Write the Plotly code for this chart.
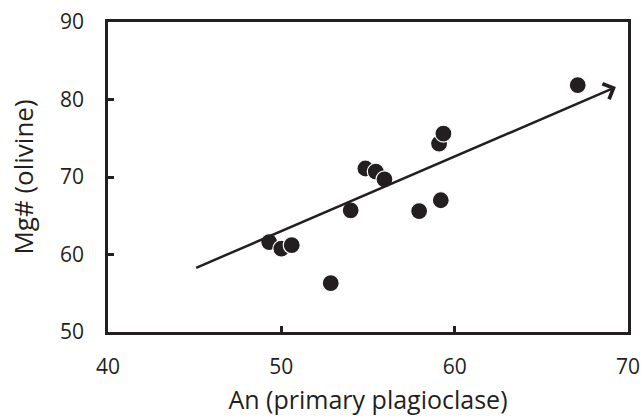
import plotly.graph_objects as go

# Data
an_primary = [49.3, 50.0, 50.6, 52.85, 54.0, 54.85, 55.45, 55.95, 57.95, 59.2, 59.1, 59.35, 67.1]
mg_olivine = [61.6, 60.75, 61.2, 56.3, 65.7, 71.1, 70.7, 69.7, 65.6, 67.0, 74.3, 75.6, 81.85]

trend_x = [45.0, 69.3]
trend_y = [58.2, 81.6]

x_ticks = [40, 50, 60, 70]
y_ticks = [50, 60, 70, 80, 90]

font_family = "Open Sans, Liberation Sans, sans-serif"
ink = "#231f20"

fig = go.Figure()
fig.add_trace(go.Scatter(
    x=an_primary, y=mg_olivine, mode="markers",
    marker=dict(size=17, color=ink, line=dict(color="white", width=1.2)),
    showlegend=False, cliponaxis=False,
))

fig.add_annotation(
    x=trend_x[1], y=trend_y[1], ax=trend_x[0], ay=trend_y[0],
    xref="x", yref="y", axref="x", ayref="y",
    showarrow=True, arrowhead=4, arrowsize=1.3, arrowwidth=2.5,
    arrowcolor=ink, text="",
)

axis_common = dict(
    showline=True, linecolor=ink, linewidth=2.5, mirror=True,
    ticks="inside", ticklen=6, tickwidth=2.5, tickcolor=ink,
    showgrid=False, zeroline=False, automargin=False,
    tickfont=dict(family=font_family, size=21, color=ink),
)

fig.update_xaxes(
    range=[40, 70], tickvals=x_ticks, ticktext=[str(v) for v in x_ticks],
    title=dict(text="An (primary plagioclase)", font=dict(family=font_family, size=25, color=ink), standoff=18),
    ticklabelstandoff=14,
    **axis_common,
)
fig.update_yaxes(
    range=[50, 90], tickvals=y_ticks, ticktext=[str(v) for v in y_ticks],
    title=dict(text="Mg# (olivine)", font=dict(family=font_family, size=26, color=ink), standoff=19),
    ticklabelstandoff=17,
    **axis_common,
)

fig.update_layout(
    width=643, height=416,
    margin=dict(l=108, r=15, t=22, b=84),
    paper_bgcolor="white", plot_bgcolor="white",
)

fig.write_html("out.html")
